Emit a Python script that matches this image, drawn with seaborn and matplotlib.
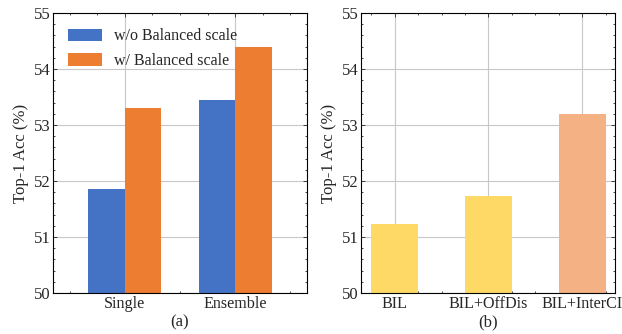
import matplotlib
matplotlib.use("Agg")
import pandas as pd
import seaborn as sns
import matplotlib.pyplot as plt
from matplotlib.ticker import MultipleLocator

# panel (a)
groups = ['Single', 'Ensemble']
series = ['w/o Balanced scale', 'w/ Balanced scale']
wo_bal = [51.86, 53.45]
w_bal = [53.30, 54.40]
# panel (b)
methods = ['BIL', 'BIL+OffDis', 'BIL+InterCI']
acc_b = [51.23, 51.73, 53.20]

sns.set_style("ticks")
plt.rcParams['font.family'] = ['Liberation Serif', 'DejaVu Serif']
plt.rcParams['font.size'] = 12
plt.rcParams['mathtext.fontset'] = 'stix'

df_a = pd.DataFrame({
    'group': groups * 2,
    'value': wo_bal + w_bal,
    'series': [series[0]] * 2 + [series[1]] * 2,
})
df_b = pd.DataFrame({'method': methods, 'value': acc_b})

fig = plt.figure(figsize=(6.22, 3.34), dpi=100)
ax1 = fig.add_axes([0.0852, 0.1228, 0.4084, 0.8383])
ax2 = fig.add_axes([0.5804, 0.1228, 0.4084, 0.8383])

sns.barplot(data=df_a, x='group', y='value', hue='series', order=groups,
            hue_order=series, palette=['#4472C4', '#ED7D31'], width=0.66,
            gap=0, saturation=1, linewidth=0, ax=ax1)
sns.barplot(data=df_b, x='method', y='value', hue='method', order=methods,
            palette=['#FFD966', '#FFD966', '#F4B183'], width=0.5,
            saturation=1, linewidth=0, legend=False, ax=ax2)

for ax, lab in [(ax1, '(a)'), (ax2, '(b)')]:
    ax.set_ylim(50, 55)
    ax.yaxis.set_major_locator(MultipleLocator(1))
    ax.yaxis.set_minor_locator(MultipleLocator(0.2))
    ax.xaxis.set_minor_locator(MultipleLocator(0.25))
    ax.set_ylabel('Top-1 Acc (%)', labelpad=3)
    ax.set_xlabel(lab, labelpad=2)
    ax.set_axisbelow(True)
    ax.grid(True, which='major', color='#c8c8c8', linewidth=0.8)
    ax.tick_params(which='both', direction='in', top=True, right=True,
                   width=0.6, pad=2, labelsize=12)
    ax.tick_params(axis='x', labelsize=11.6)
    ax.tick_params(which='major', length=3)
    ax.tick_params(which='minor', length=1.5)
    for sp in ax.spines.values():
        sp.set_linewidth(0.8)
        sp.set_color('black')

ax1.set_xlim(-0.65, 1.65)
ax2.set_xlim(-0.36, 2.35)

ax1.legend(loc='upper left', frameon=False, fontsize=11.5, handlelength=2.1,
           handleheight=0.8, handletextpad=0.75, labelspacing=0.55,
           borderaxespad=0.55)

fig.savefig('out.png', dpi=100)
